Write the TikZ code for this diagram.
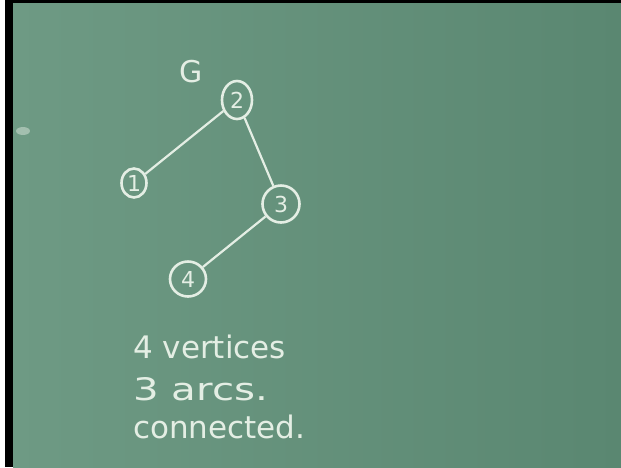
\documentclass[tikz,border=0pt]{standalone}
\usepackage{fontspec}
\setmainfont{DejaVu Sans}
\usetikzlibrary{shapes.geometric}
\definecolor{boardL}{HTML}{6E9A84}
\definecolor{boardR}{HTML}{5A8771}
\definecolor{chalk}{HTML}{E4EEE4}
\begin{document}
\begin{tikzpicture}[x=1pt,y=-1pt,
  vert/.style={ellipse, draw=chalk, line width=2.6pt, text=chalk, inner sep=0pt, font=\fontsize{22}{22}\selectfont},
  edge/.style={draw=chalk, line width=2.2pt},
  lbl/.style={text=chalk, anchor=base west, font=\fontsize{31}{31}\selectfont, inner sep=0pt}]
\useasboundingbox (0,0) rectangle (621,467);
\fill[white] (0,0) rectangle (5,467);
\fill[black] (5,0) rectangle (13,467);
\shade[left color=boardL, right color=boardR] (13,3) rectangle (621,467);
\fill[black] (5,0) rectangle (621,3);
\fill[chalk, opacity=0.45] (23,131) ellipse (7pt and 4pt);
% vertices
\node[vert, minimum width=30pt, minimum height=38pt] (n2) at (237,100) {2};
\node[vert, minimum width=25pt, minimum height=29pt] (n1) at (134,183) {1};
\node[vert, minimum width=37pt, minimum height=37pt] (n3) at (281,204) {3};
\node[vert, minimum width=36pt, minimum height=35pt] (n4) at (188,279) {4};
\node[text=chalk, inner sep=0pt, font=\fontsize{30}{30}\selectfont] (g) at (191,72) {G};
% edges
\draw[edge] (n1) -- (n2);
\draw[edge] (n2) -- (n3);
\draw[edge] (n3) -- (n4);
% text
\node[lbl] (t1) at (133,358) {4 vertices};
\node[lbl] (t2) at (133,400) {\scalebox{1.3}[1]{3 arcs.}};
\node[lbl] (t3) at (133,438) {connected.};
\end{tikzpicture}
\end{document}
